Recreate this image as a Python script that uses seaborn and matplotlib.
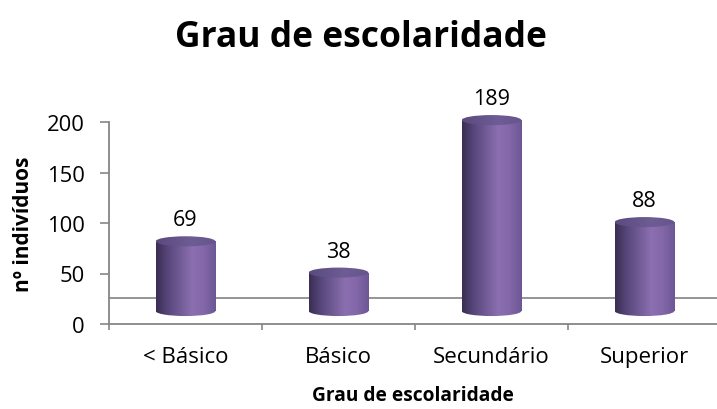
import numpy as np
import pandas as pd
import matplotlib
matplotlib.use("Agg")
import matplotlib.pyplot as plt
import seaborn as sns
from matplotlib import transforms
from matplotlib.patches import Ellipse, Rectangle
from matplotlib.lines import Line2D
from matplotlib.colors import LinearSegmentedColormap

# ---- data ----
categories = ["< Básico", "Básico", "Secundário", "Superior"]
values = [69, 38, 189, 88]
yticks = [0, 50, 100, 150, 200]
title = "Grau de escolaridade"
xlabel = "Grau de escolaridade"
ylabel = "nº indivíduos"

sns.set_theme(style="white")
plt.rcParams["font.family"] = ["Open Sans", "DejaVu Sans"]
plt.rcParams.update({"text.color": "black", "axes.labelcolor": "black",
                     "xtick.color": "black", "ytick.color": "black"})

W, H = 717, 410
fig = plt.figure(figsize=(W / 100, H / 100), dpi=100)
ax = fig.add_axes([109 / W, 85 / H, 608 / W, 202 / H])

df = pd.DataFrame({"cat": categories, "val": values})
sns.barplot(data=df, x="cat", y="val", color="#7a62a0", width=0.39,
            saturation=1, ax=ax)

body_cmap = LinearSegmentedColormap.from_list(
    "body", [(0.0, "#3a2d52"), (0.2, "#57477c"), (0.6, "#8b6fb0"),
             (0.8, "#8367a8"), (1.0, "#6c5794")])
top_cmap = LinearSegmentedColormap.from_list(
    "top", [(0.0, "#5a4a7e"), (0.6, "#6e5c95"), (1.0, "#66558c")])

off = transforms.ScaledTranslation(0, 0.13, fig.dpi_scale_trans)
trans = ax.transData + off
grad = np.linspace(0, 1, 256)[None, :]
ell_h = 10.0  # data units (~10 px)

for p in list(ax.patches):
    x0, w, h = p.get_x(), p.get_width(), p.get_height()
    p.set_visible(False)
    cx = x0 + w / 2
    rect = Rectangle((x0, 0), w, h, transform=trans)
    bot = Ellipse((cx, 0), w, ell_h, transform=trans)
    topc = Ellipse((cx, h), w, ell_h, transform=trans)
    for clip, cmap, z in ((rect, body_cmap, 2), (bot, body_cmap, 2),
                          (topc, top_cmap, 3)):
        im = ax.imshow(grad, cmap=cmap,
                       extent=[x0, x0 + w, -ell_h, h + ell_h],
                       transform=trans, aspect="auto", zorder=z,
                       interpolation="bilinear")
        im.set_clip_box(fig.bbox)
        im.set_clip_path(clip)

for i, v in enumerate(values):
    ax.annotate(str(v), (i, v), xycoords=trans, xytext=(0, 15.5),
                textcoords="offset points", ha="center", va="center",
                fontsize=15.5, color="black")

ax.set_xlim(-0.5, 3.5 - 4 / 153)
ax.set_ylim(0, 200)

# back-wall floor edge
floor_off = transforms.ScaledTranslation(0, 0.26, fig.dpi_scale_trans)
ax.add_line(Line2D([0, 1], [0, 0], transform=ax.get_yaxis_transform() + floor_off,
                   color="#8c8c8c", lw=1.3, zorder=1.5, clip_on=False))

for s in ["top", "right"]:
    ax.spines[s].set_visible(False)
for s in ["left", "bottom"]:
    ax.spines[s].set_color("#868686")
    ax.spines[s].set_linewidth(1.3)

ax.set_yticks(yticks)
ax.tick_params(axis="y", left=True, direction="out", length=6.5, width=1.2,
               color="#868686", labelcolor="black", labelsize=15.8, pad=11)
ax.set_xticks(range(len(categories)))
ax.set_xticklabels(categories)
ax.set_xticks([-0.5, 0.5, 1.5, 2.5], minor=True)
ax.tick_params(axis="x", which="major", bottom=True, length=0, labelsize=16,
               labelcolor="black", pad=16)
ax.tick_params(axis="x", which="minor", bottom=True, direction="out", length=4,
               width=1.2, color="#868686")

ax.set_xlabel(xlabel, fontsize=13.8, fontweight="bold", labelpad=12.5, color="black")
ax.set_ylabel(ylabel, fontsize=15, fontweight="bold", labelpad=9, color="black")

fig.text(361 / W, 1 - 38 / H, title, ha="center", va="center",
         fontsize=25.5, fontweight="bold", color="black")

fig.savefig("out.png", dpi=100)
